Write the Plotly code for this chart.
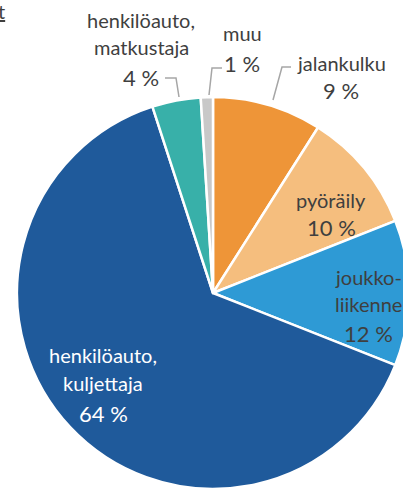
import plotly.graph_objects as go

# ---- data ----
categories = ["jalankulku", "pyöräily", "joukko-\nliikenne", "henkilöauto,\nkuljettaja",
              "henkilöauto,\nmatkustaja", "muu"]
values = [9, 10, 12, 64, 4, 1]
colors = ["#EE9538", "#F5BE7E", "#2E9AD5", "#1F5A9B", "#38B0A9", "#C8C8C8"]

# ---- layout geometry (pixels) ----
W, H = 426, 586
CX, CY, R = 213, 293, 196


def px(x):
    return x / W


def py(y):
    return 1 - y / H


fig = go.Figure(go.Pie(
    labels=[c.replace("\n", " ") for c in categories],
    values=values,
    sort=False,
    direction="clockwise",
    rotation=0,
    marker=dict(colors=colors, line=dict(color="white", width=2.5)),
    textinfo="none",
    hoverinfo="label+value",
    domain=dict(x=[px(CX - R), px(CX + R)], y=[py(CY + R), py(CY - R)]),
    showlegend=False,
))

# label placement: (x centre, y centres of each line), text colour
label_pos = [
    (341, [63, 90], "#3F3F3F"),
    (331, [200, 227], "#3F3F3F"),
    (368, [277, 304, 333], "#3F3F3F"),
    (103, [355, 383, 413], "#FFFFFF"),
    (141, [20, 47, 78], "#3F3F3F"),
    (242, [33, 63], "#3F3F3F"),
]

annotations = []
for cat, val, (x, ys, col) in zip(categories, values, label_pos):
    lines = cat.split("\n") + [f"{val} %"]
    for i, (line, y) in enumerate(zip(lines, ys)):
        is_pct = i == len(lines) - 1
        annotations.append(dict(
            x=px(x), y=py(y), xref="paper", yref="paper", text=line,
            showarrow=False, xanchor="center", yanchor="middle",
            font=dict(family="Lato", size=22 if is_pct else 20, color=col),
        ))

# cropped text at top-left
annotations.append(dict(x=px(7), y=py(11), xref="paper", yref="paper", text="<u>t</u>",
                        showarrow=False, xanchor="right", yanchor="middle",
                        font=dict(family="Lato", size=20, color="#3F3F3F")))

leaders = [
    [(165, 78), (176, 78), (179, 97)],
    [(222, 68), (212, 68), (209, 95)],
    [(291, 67), (282, 67), (273, 100)],
]
shapes = []
for pts in leaders:
    path = "M " + " L ".join(f"{px(x)},{py(y)}" for x, y in pts)
    shapes.append(dict(type="path", path=path, xref="paper", yref="paper",
                       line=dict(color="#A6A6A6", width=1.5)))

fig.update_layout(
    width=W, height=H,
    margin=dict(l=0, r=0, t=0, b=0),
    paper_bgcolor="white", plot_bgcolor="white",
    annotations=annotations, shapes=shapes,
)

fig.write_html(
    "out.html",
    config={"displayModeBar": False},
    post_script="document.body.style.margin='0';document.body.style.overflow='hidden';"
                "document.documentElement.style.overflow='hidden';",
)
